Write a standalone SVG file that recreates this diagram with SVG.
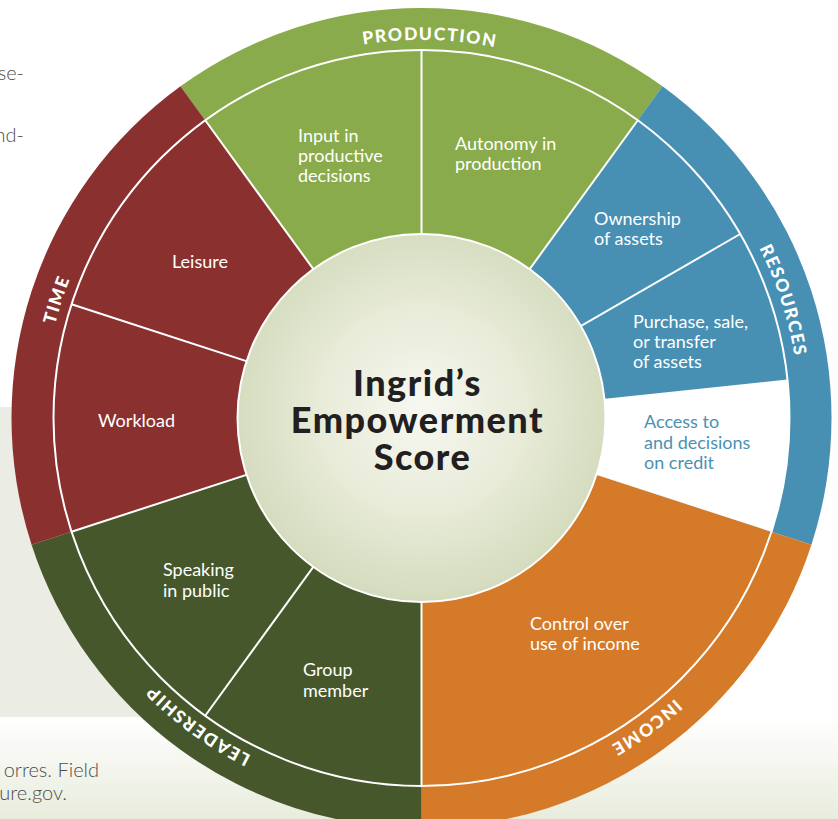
<svg xmlns="http://www.w3.org/2000/svg" width="838" height="819" viewBox="0 0 838 819">
  <style>
    .lbl { font-family: Lato, "Open Sans", "Liberation Sans", sans-serif; font-size: 18px; fill: #ffffff; }
    .band { font-family: Lato, "Open Sans", "Liberation Sans", sans-serif; font-size: 17.5px; font-weight: 900; letter-spacing: 1.6px; fill: #ffffff; }
    .body { font-family: Lato, "Open Sans", "Liberation Sans", sans-serif; font-size: 20px; font-weight: 300; fill: #4d4d4d; }
    .title { font-family: Lato, "Open Sans", "Liberation Sans", sans-serif; font-size: 36px; font-weight: 900; letter-spacing: 1.5px; fill: #231f20; }
    .div { stroke: #ffffff; stroke-width: 2; fill: none; }
  </style>
  <defs>
    <radialGradient id="coreFill" cx="50%" cy="48%" r="52%">
      <stop offset="0" stop-color="#f7f8f1"/>
      <stop offset="0.55" stop-color="#e7ebd7"/>
      <stop offset="1" stop-color="#d4dbbd"/>
    </radialGradient>
    <linearGradient id="footFill" x1="0" y1="0" x2="0" y2="1">
      <stop offset="0" stop-color="#ffffff"/>
      <stop offset="1" stop-color="#e8ecdc"/>
    </linearGradient>
    <!-- clockwise circle starting at the bottom, used for the ring titles -->
    <path id="ringPath" d="M421.5,796 A378,378 0 1 1 421.5,40 A378,378 0 1 1 421.5,796"/>
  </defs>

  <!-- page background -->
  <rect x="0" y="0" width="838" height="819" fill="#ffffff"/>
  <rect x="0" y="407" width="430" height="310" fill="#ebece4"/>
  <rect x="0" y="717" width="838" height="102" fill="url(#footFill)"/>
  <text class="body" x="24" y="80" text-anchor="end">se-</text>
  <text class="body" x="24" y="142" text-anchor="end">nd-</text>
  <text class="body" x="99" y="777" text-anchor="end" font-size="20">orres. Field</text>
  <text class="body" x="67" y="800" text-anchor="end" font-size="20">ure.gov.</text>

  <!-- five domain wedges -->
  <g id="production">
    <path d="M421.5,418 L180.51,86.30 A410,410 0 0 1 662.49,86.30 Z" fill="#8aab4b"/>
  </g>
  <g id="resources">
    <path d="M421.5,418 L662.49,86.30 A410,410 0 0 1 811.43,544.70 Z" fill="#4790b4"/>
  </g>
  <g id="income">
    <path d="M421.5,418 L811.43,544.70 A410,410 0 0 1 421.5,828 Z" fill="#d57a28"/>
  </g>
  <g id="leadership">
    <path d="M421.5,418 L421.5,828 A410,410 0 0 1 31.57,544.70 Z" fill="#46572b"/>
  </g>
  <g id="time">
    <path d="M421.5,418 L31.57,544.70 A410,410 0 0 1 180.51,86.30 Z" fill="#8a312f"/>
  </g>

  <!-- credit indicator is left blank -->
  <g id="access-to-credit">
    <path d="M421.5,418 L787.48,379.53 A368,368 0 0 1 771.49,531.72 Z" fill="#ffffff"/>
    <text class="lbl" style="fill:#4b91b5">
      <tspan x="644" y="428">Access to</tspan>
      <tspan x="644" y="448.5">and decisions</tspan>
      <tspan x="644" y="469">on credit</tspan>
    </text>
  </g>

  <!-- ring titles -->
  <g id="ring-titles">
    <text class="band"><textPath href="#ringPath" startOffset="50.35%" text-anchor="middle">PRODUCTION</textPath></text>
    <text class="band"><textPath href="#ringPath" startOffset="70%" text-anchor="middle">RESOURCES</textPath></text>
    <text class="band"><textPath href="#ringPath" startOffset="90%" text-anchor="middle">INCOME</textPath></text>
    <text class="band"><textPath href="#ringPath" startOffset="10%" text-anchor="middle">LEADERSHIP</textPath></text>
    <text class="band"><textPath href="#ringPath" startOffset="30%" text-anchor="middle">TIME</textPath></text>
  </g>

  <!-- dividers between indicators -->
  <g id="dividers">
    <circle class="div" cx="421.5" cy="418" r="368" stroke-width="1.6"/>
    <line class="div" x1="421.5" y1="418" x2="421.5" y2="50"/>
    <line class="div" x1="421.5" y1="418" x2="637.80" y2="120.28"/>
    <line class="div" x1="421.5" y1="418" x2="740.20" y2="234"/>
    <line class="div" x1="421.5" y1="418" x2="421.5" y2="786"/>
    <line class="div" x1="421.5" y1="418" x2="205.20" y2="715.72"/>
    <line class="div" x1="421.5" y1="418" x2="71.51" y2="531.72"/>
    <line class="div" x1="421.5" y1="418" x2="71.51" y2="304.28"/>
    <line class="div" x1="421.5" y1="418" x2="205.20" y2="120.28"/>
  </g>

  <!-- indicator labels -->
  <g id="input-in-productive-decisions">
    <text class="lbl"><tspan x="298" y="141.5">Input in</tspan><tspan x="298" y="162">productive</tspan><tspan x="298" y="182">decisions</tspan></text>
  </g>
  <g id="autonomy-in-production">
    <text class="lbl"><tspan x="455" y="150">Autonomy in</tspan><tspan x="455" y="170">production</tspan></text>
  </g>
  <g id="ownership-of-assets">
    <text class="lbl"><tspan x="594" y="225">Ownership</tspan><tspan x="594" y="245">of assets</tspan></text>
  </g>
  <g id="purchase-sale-transfer">
    <text class="lbl"><tspan x="633" y="328">Purchase, sale,</tspan><tspan x="633" y="348">or transfer</tspan><tspan x="633" y="368">of assets</tspan></text>
  </g>
  <g id="control-over-income">
    <text class="lbl"><tspan x="530" y="630">Control over</tspan><tspan x="530" y="650">use of income</tspan></text>
  </g>
  <g id="group-member">
    <text class="lbl"><tspan x="303" y="676">Group</tspan><tspan x="303" y="697">member</tspan></text>
  </g>
  <g id="speaking-in-public">
    <text class="lbl"><tspan x="163" y="576">Speaking</tspan><tspan x="163" y="597">in public</tspan></text>
  </g>
  <g id="workload">
    <text class="lbl" x="98" y="427">Workload</text>
  </g>
  <g id="leisure">
    <text class="lbl" x="172" y="268">Leisure</text>
  </g>

  <!-- central score -->
  <g id="empowerment-score">
    <circle cx="421.5" cy="418" r="184" fill="url(#coreFill)" stroke="#ffffff" stroke-width="2"/>
    <text class="title" text-anchor="middle">
      <tspan x="422.5" y="396">Ingrid’s</tspan>
      <tspan x="422.5" y="432.5">Empowerment</tspan>
      <tspan x="422.5" y="469.5">Score</tspan>
    </text>
  </g>
</svg>
